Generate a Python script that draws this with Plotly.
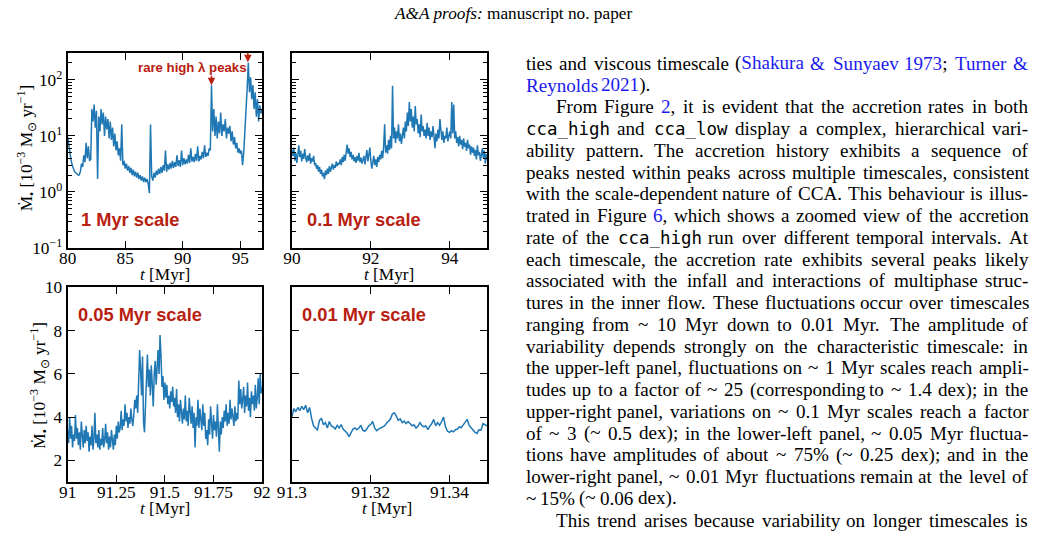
import numpy as np
import plotly.graph_objects as go

W, H = 1041, 539          # figure size
# the page is photographed with an 8 px body margin and then fitted to W x H
OFF = 8
KX, KY = W / (W + 2 * OFF), H / (H + 2 * OFF)
FSC = 1.0 / KX            # font compensation for the fitting

# ---------------- data (accretion rate, 1e-3 Msun/yr) ----------------
# upper-left: 80.0 .. 96.9 Myr, sampled every 0.1 Myr
tl_t0, tl_dt = 80.0, 0.1
tl_mdot = [
    9.5, 6.5, 4.8, 3.6, 3.0, 2.6, 2.3, 2.2, 2.1, 2.0,
    2.0, 2.3, 3.2, 2.8, 4.5, 3.4, 7.5, 4.0, 6.5, 3.6,
    3.8, 30, 18, 36, 14, 28, 1.7, 22, 12, 30,
    16, 26, 10, 22, 13, 20, 9, 18, 8.5, 14,
    6.5, 11, 5.5, 8, 4.5, 6, 3.6, 16, 3.0, 3.6,
    2.6, 3.2, 2.4, 2.9, 2.2, 2.7, 2.0, 2.5, 1.9, 2.3,
    1.8, 2.2, 1.7, 2.0, 1.6, 1.9, 1.5, 1.8, 1.5, 1.7,
    1.4, 0.95, 16, 1.9, 1.6, 2.2, 1.8, 2.4, 2.0, 2.6,
    2.1, 2.8, 2.2, 3.0, 2.4, 5.5, 2.3, 3.1, 2.5, 3.3,
    2.6, 3.6, 2.7, 3.4, 2.8, 4.5, 2.9, 3.7, 2.8, 5.5,
    3.0, 4.0, 3.1, 3.8, 3.2, 4.6, 3.3, 6.0, 3.5, 4.2,
    3.4, 4.8, 3.6, 6.5, 3.5, 4.4, 3.8, 5.2, 4.0, 6.8,
    4.2, 5.0, 4.4, 6.0, 5.5, 80, 12, 30, 10, 22,
    9, 18, 11, 26, 10, 16, 12, 20, 9, 14,
    11, 15, 8, 12, 7, 9.5, 6, 7.5, 5, 6,
    4.8, 5.5, 3.0, 5.0, 12, 40, 70, 200, 60, 110,
    45, 80, 30, 60, 22, 45, 18, 35, 25, 30,
]

# upper-right: 90.0 .. 94.95 Myr, every 0.025 Myr
tr_t0, tr_dt = 90.0, 0.025
tr_mdot = [
    5.6, 4.4, 6.2, 3.6, 5.0, 3.3, 4.6, 6.8,
    4.2, 5.4, 3.5, 4.8, 3.9, 5.8, 4.1, 3.4,
    4.5, 3.6, 4.9, 3.2, 4.0, 3.5, 4.4, 3.0,
    3.3, 2.6, 3.0, 2.3, 2.8, 2.1, 2.5, 1.9,
    2.2, 1.7, 2.4, 2.0, 2.6, 2.1, 2.9, 2.3,
    2.7, 3.2, 2.5, 3.0, 2.7, 3.5, 2.9, 3.3,
    3.1, 3.8, 3.0, 4.2, 3.4, 4.6, 3.6, 5.5,
    7.0, 4.8, 6.0, 4.2, 5.2, 3.8, 4.6, 3.5,
    4.2, 3.3, 4.4, 3.6, 5.0, 3.4, 4.1, 3.2,
    3.8, 4.4, 3.1, 4.0, 5.6, 3.5, 4.6, 6.2,
    3.6, 2.6, 3.4, 4.4, 3.0, 3.8, 2.8, 4.2,
    3.4, 4.6, 3.8, 5.4, 4.0, 6.5, 16, 5.0,
    6.8, 4.8, 8.5, 5.6, 10, 6.0, 78, 9.0,
    14, 7.5, 12, 9.0, 16, 8.0, 11, 7.2,
    10, 14, 9.0, 18, 12, 26, 15, 40,
    18, 30, 14, 22, 12, 34, 16, 20,
    11, 16, 9.5, 24, 12, 15, 10, 13,
    9, 17, 10, 14, 8.5, 12, 9.5, 15,
    10, 6.0, 11, 8.0, 13, 9.0, 20, 11,
    8.5, 12, 7.5, 10, 9.0, 14, 8.0, 10,
    12, 9.0, 40, 11, 36, 9.0, 12, 7.5,
    9.5, 6.5, 10, 7.0, 8.5, 5.8, 9.0, 6.4,
    7.5, 5.4, 8.5, 6.0, 7.0, 4.6, 6.5, 5.0,
    6.2, 4.4, 5.6, 3.8, 6.8, 4.5, 5.2, 3.6,
    4.6, 6.0, 4.0, 5.5, 3.2, 4.8, 3.8,
]

# lower-left: 91.0 .. 92.0 Myr, every 0.005 Myr
bl_t0, bl_dt = 91.0, 0.005
bl_mdot = [
    3.4, 2.8, 4.0, 3.0, 3.6, 2.6, 3.2, 2.9, 4.1, 3.0,
    3.5, 2.7, 3.3, 2.5, 3.8, 3.0, 2.6, 3.4, 2.8, 3.6,
    2.9, 3.3, 2.4, 3.1, 2.7, 3.6, 2.5, 3.0, 4.2, 2.8,
    3.2, 2.6, 3.4, 2.5, 3.0, 2.7, 3.5, 2.6, 2.9, 3.7,
    2.8, 3.3, 2.5, 3.1, 2.6, 3.4, 3.0, 2.5, 3.2, 2.7,
    3.6, 3.0, 3.8, 3.3, 3.5, 4.3, 3.4, 3.9, 3.6, 4.6,
    3.8, 4.2, 3.5, 4.0, 3.7, 4.4, 3.9, 3.6, 4.1, 4.8,
    4.4, 5.0, 4.2, 5.6, 7.1, 6.2, 5.0, 6.8, 3.8, 3.3,
    4.8, 6.0, 6.9, 5.4, 6.2, 5.0, 6.4, 5.5, 4.5, 6.0,
    6.6, 5.5, 6.2, 7.1, 6.0, 7.8, 6.8, 5.4, 5.9, 4.8,
    5.6, 4.9, 5.5, 4.6, 5.0, 4.4, 5.2, 4.7, 5.4, 4.5,
    4.9, 4.2, 5.3, 4.0, 4.6, 3.8, 4.8, 4.1, 3.7, 4.4,
    3.9, 5.0, 3.8, 4.3, 3.6, 4.9, 4.0, 3.7, 4.5, 3.5,
    4.2, 2.6, 4.0, 3.6, 4.8, 3.5, 4.4, 3.8, 3.4, 4.6,
    3.6, 4.2, 3.0, 3.4, 2.7, 3.9, 3.2, 4.5, 3.5, 3.0,
    4.1, 3.4, 3.8, 3.1, 4.6, 3.3, 2.4, 3.8, 3.2, 4.0,
    3.5, 4.3, 3.8, 4.6, 3.6, 4.2, 3.7, 4.8, 3.9, 4.4,
    4.0, 3.6, 4.5, 3.8, 4.2, 3.9, 5.7, 4.6, 5.3, 4.4,
    4.8, 5.4, 4.2, 5.0, 4.5, 5.6, 4.3, 4.9, 4.0, 5.2,
    4.6, 5.0, 4.3, 5.5, 4.4, 4.9, 5.8, 4.6, 6.0, 5.1,
    5.4,
]

# lower-right: 91.3 .. 91.3495 Myr, every 0.0005 Myr
br_t0, br_dt = 91.3, 0.0005
br_mdot = [
    4.0, 4.4, 4.25, 4.45, 4.3, 4.5, 4.35, 4.55, 4.2, 4.45,
    3.95, 3.6, 3.5, 3.42, 3.85, 3.95, 3.65, 3.75, 3.5, 3.8,
    3.6, 3.55, 3.45, 3.62, 3.5, 3.66, 3.45, 3.35, 3.27, 3.1,
    3.3, 3.45, 3.5, 3.42, 3.5, 3.62, 3.4, 3.35, 3.45, 3.6,
    3.66, 3.8, 3.5, 3.38, 3.45, 3.5, 3.58, 3.6, 3.72, 3.8,
    3.9, 4.15, 4.2, 4.05, 3.85, 3.92, 3.75, 3.82, 3.7, 3.8,
    3.72, 3.6, 3.65, 3.5, 3.58, 3.75, 3.62, 3.55, 3.6, 3.42,
    3.58, 3.7, 3.9, 3.6, 3.75, 3.62, 3.8, 4.0, 3.55, 3.35,
    3.3, 3.38, 3.32, 3.42, 3.45, 3.55, 3.52, 3.65, 3.78, 3.9,
    3.62, 3.5, 3.38, 3.3, 3.25, 3.42, 3.4, 3.7, 3.65, 3.6,
]

# ticks
log_tickvals = [0.1, 1, 10, 100]
log_ticktext = ["10<sup>\u22121</sup>", "10<sup>0</sup>", "10<sup>1</sup>", "10<sup>2</sup>"]
log_minorvals = [m * 10.0 ** k for k in (-1, 0, 1) for m in range(2, 10)] + [200]
lin_tickvals = [2, 4, 6, 8, 10]
tl_xticks = [80, 85, 90, 95]
tr_xticks = [90, 92, 94]
bl_xticks = [91, 91.25, 91.5, 91.75, 92]
bl_xtext = ["91", "91.25", "91.5", "91.75", "92"]
br_xticks = [91.3, 91.32, 91.34]
br_xtext = ["91.3", "91.32", "91.34"]

panel_labels = ["1 Myr scale", "0.1 Myr scale", "0.05 Myr scale", "0.01 Myr scale"]
peak_times = [92.5, 95.66]
peak_logy = [1.90, 2.31]

# ---------------- figure ----------------
LINE = "#1f77b4"
RED = "#b8200f"
LINK = "#1a1aee"
SERIF = "Liberation Serif"
MONO = "DejaVu Sans Mono"


def series(t0, dt, vals):
    t = t0 + dt * np.arange(len(vals))
    return t, np.array(vals, dtype=float)


fig = go.Figure()
for (t0, dt, vals), xa, ya in [((tl_t0, tl_dt, tl_mdot), "x", "y"),
                               ((tr_t0, tr_dt, tr_mdot), "x2", "y2"),
                               ((bl_t0, bl_dt, bl_mdot), "x3", "y3"),
                               ((br_t0, br_dt, br_mdot), "x4", "y4")]:
    t, v = series(t0, dt, vals)
    fig.add_trace(go.Scatter(x=t, y=v, mode="lines", line=dict(color=LINE, width=1.5),
                             xaxis=xa, yaxis=ya, showlegend=False, hoverinfo="skip"))


def px(X):
    """target picture x (pixels) -> paper fraction"""
    return (X / KX - OFF) / W


def py(Y):
    """target picture y (pixels from top) -> paper fraction"""
    return 1 - (Y / KY - OFF) / H


def fs(s):
    return round(s * FSC, 2)


TICKFONT = dict(family=SERIF, size=fs(17), color="black")
base = dict(showline=True, linecolor="black", linewidth=2, mirror="allticks", ticks="inside",
            ticklen=7, tickwidth=1.2, tickcolor="black", showgrid=False, zeroline=False,
            tickfont=TICKFONT, fixedrange=True)
xbase = dict(base, ticklabelstandoff=-7)
log_minor = dict(tickmode="array", tickvals=log_minorvals, ticks="inside", ticklen=4,
                 tickwidth=1, tickcolor="black", showgrid=False)

xL = [px(61), px(257)]
xR = [px(287), px(484)]
yT = [py(248.5), py(52)]
yB = [py(484), py(288)]

fig.update_layout(
    width=W, height=H, autosize=False,
    margin=dict(l=0, r=0, t=0, b=0, pad=0),
    paper_bgcolor="white", plot_bgcolor="white", showlegend=False,
    xaxis=dict(domain=xL, range=[80, 96.9], tickmode="array", tickvals=tl_xticks, anchor="y", **xbase),
    yaxis=dict(domain=yT, type="log", range=[-1, np.log10(300)], tickmode="array",
               tickvals=log_tickvals, ticktext=log_ticktext, minor=log_minor, anchor="x", **base),
    xaxis2=dict(domain=xR, range=[90, 94.95], tickmode="array", tickvals=tr_xticks, anchor="y2", **xbase),
    yaxis2=dict(domain=yT, type="log", range=[-1, np.log10(300)], tickmode="array",
                tickvals=log_tickvals, showticklabels=False, minor=log_minor, anchor="x2", **base),
    xaxis3=dict(domain=xL, range=[91, 92], tickmode="array", tickvals=bl_xticks, ticktext=bl_xtext,
                anchor="y3", **xbase),
    yaxis3=dict(domain=yB, range=[1, 10], tickmode="array", tickvals=lin_tickvals, anchor="x3", **base),
    xaxis4=dict(domain=xR, range=[91.3, 91.3496], tickmode="array", tickvals=br_xticks,
                ticktext=br_xtext, anchor="y4", **xbase),
    yaxis4=dict(domain=yB, range=[1, 10], tickmode="array", tickvals=lin_tickvals,
                showticklabels=False, anchor="x4", **base),
)

ann = []


def text(x, y, s, size, family=SERIF, color="black", xanchor="left", yanchor="middle", angle=0):
    ann.append(dict(x=px(x), y=py(y), xref="paper", yref="paper", text=s, showarrow=False,
                    font=dict(family=family, size=fs(size), color=color), xanchor=xanchor,
                    yanchor=yanchor, textangle=angle, borderpad=0, borderwidth=0))


# header
text(510, 12, "<i>A&amp;A proofs:</i> manuscript no. paper", 17, xanchor="center")

# axis titles
ytitle = "\u1e40<sub>\u2022</sub> [10<sup>\u22123</sup> M<sub>\u2299</sub> yr<sup>\u22121</sup>]"
text(19, 148, ytitle, 17, xanchor="center", angle=-90)
text(33, 386, ytitle, 17, xanchor="center", angle=-90)
for cx, cy in [(159, 275), (385, 275), (159, 511), (383, 511)]:
    text(cx, cy, "<i>t</i> [Myr]", 17, xanchor="center")

# panel labels
for (lx, ly), lab in zip([(74, 220), (302.5, 220), (71, 315), (297.5, 315)], panel_labels):
    text(lx, ly, "<b>%s</b>" % lab, 18, family="Liberation Sans", color=RED)
text(131.5, 67, "<b>rare high \u03bb peaks</b>", 13, family="Liberation Sans", color=RED)
for xt, yl in zip(peak_times, peak_logy):
    ann.append(dict(x=xt, y=yl, xref="x", yref="y", text="", showarrow=True, ax=0, ay=-11,
                    arrowhead=2, arrowsize=1, arrowwidth=1.5, arrowcolor=RED, standoff=0))

# ---------------- right-hand column text (justified) ----------------
TIMES = {' ': 250, '(': 333, ')': 333, ',': 250, '.': 250, ';': 278, ':': 278, '-': 333,
         '&': 778, '%': 833, '~': 541}
TIMES.update({d: 500 for d in "0123456789"})
TIMES.update(dict(zip("ABCDEFGHIJKLMNOPQRSTUVWXYZ",
                      [722, 667, 667, 722, 611, 556, 722, 722, 333, 389, 722, 611, 889, 722, 722,
                       556, 722, 667, 556, 611, 722, 722, 944, 722, 722, 611])))
TIMES.update(dict(zip("abcdefghijklmnopqrstuvwxyz",
                      [444, 500, 444, 500, 444, 333, 500, 500, 278, 278, 500, 278, 778, 500, 500,
                       500, 500, 333, 389, 278, 500, 500, 722, 500, 500, 444])))
FS = 18.8
MS = 17.2

N, Lk, Mo = "n", "l", "m"
lines = [
    (False, True, [("ties and viscous timescale (", N), ("Shakura & Sunyaev 1973", Lk), ("; ", N), ("Turner &", Lk)]),
    (False, False, [("Reynolds 2021", Lk), (").", N)]),
    (True, True, [("From Figure ", N), ("2", Lk), (", it is evident that the accretion rates in both", N)]),
    (False, True, [("cca_high", Mo), (" and ", N), ("cca_low", Mo), (" display a complex, hierarchical vari-", N)]),
    (False, True, [("ability pattern. The accretion history exhibits a sequence of", N)]),
    (False, True, [("peaks nested within peaks across multiple timescales, consistent", N)]),
    (False, True, [("with the scale-dependent nature of CCA. This behaviour is illus-", N)]),
    (False, True, [("trated in Figure ", N), ("6", Lk), (", which shows a zoomed view of the accretion", N)]),
    (False, True, [("rate of the ", N), ("cca_high", Mo), (" run over different temporal intervals. At", N)]),
    (False, True, [("each timescale, the accretion rate exhibits several peaks likely", N)]),
    (False, True, [("associated with the infall and interactions of multiphase struc-", N)]),
    (False, True, [("tures in the inner flow. These fluctuations occur over timescales", N)]),
    (False, True, [("ranging from ~ 10 Myr down to 0.01 Myr. The amplitude of", N)]),
    (False, True, [("variability depends strongly on the characteristic timescale: in", N)]),
    (False, True, [("the upper-left panel, fluctuations on ~ 1 Myr scales reach ampli-", N)]),
    (False, True, [("tudes up to a factor of ~ 25 (corresponding to ~ 1.4 dex); in the", N)]),
    (False, True, [("upper-right panel, variations on ~ 0.1 Myr scales reach a factor", N)]),
    (False, True, [("of ~ 3 (~ 0.5 dex); in the lower-left panel, ~ 0.05 Myr fluctua-", N)]),
    (False, True, [("tions have amplitudes of about ~ 75% (~ 0.25 dex); and in the", N)]),
    (False, True, [("lower-right panel, ~ 0.01 Myr fluctuations remain at the level of", N)]),
    (False, False, [("~ 15% (~ 0.06 dex).", N)]),
    (True, True, [("This trend arises because variability on longer timescales is", N)]),
]

COL_L, COL_R, INDENT = 522.7, 1028.5, 30.5
Y0, DY = 62.5, 21.9


def run_width(s, style):
    if style == Mo:
        return 0.602 * MS * len(s)
    return sum(TIMES.get(c, 500) for c in s) * FS / 1000.0


def esc(s):
    return s.replace("&", "&amp;")


for i, (indent, justify, runs) in enumerate(lines):
    words = [[]]
    for s, st in runs:
        parts = s.split(" ")
        for j, part in enumerate(parts):
            if j > 0:
                words.append([])
            if part:
                words[-1].append((part, st))
    words = [w for w in words if w]
    widths = [sum(run_width(s, st) for s, st in w) for w in words]
    x0 = COL_L + (INDENT if indent else 0)
    if justify and len(words) > 1:
        gap = (COL_R - x0 - sum(widths)) / (len(words) - 1)
    else:
        gap = TIMES[' '] * FS / 1000.0
    y = Y0 + DY * i
    x = x0
    for w, wd in zip(words, widths):
        if len(w) == 1 and w[0][1] == Mo:
            text(x, y + 0.5, w[0][0], MS, family=MONO)
        else:
            html = ""
            for s, st in w:
                html += ("<span style='color:%s'>%s</span>" % (LINK, esc(s))) if st == Lk else esc(s)
            text(x, y, html, FS)
        x += wd + gap

fig.update_layout(annotations=ann)
fig.write_html("out.html")
